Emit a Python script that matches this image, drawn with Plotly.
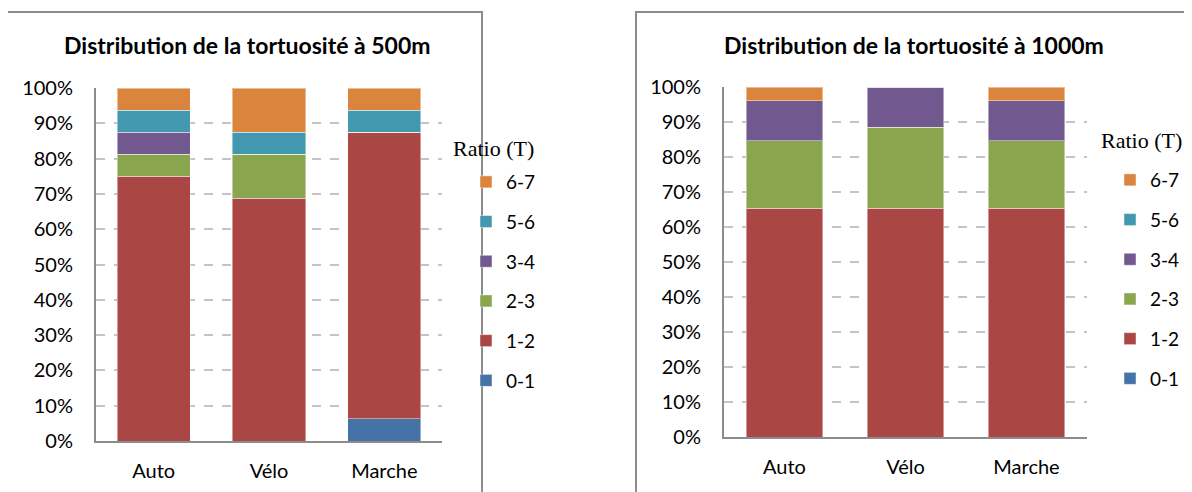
import plotly.graph_objects as go

W, H = 1192, 492
PAGE_OFFSET = 8  # default body margin of the html page

categories = ['Auto', 'Vélo', 'Marche']
classes = ['0-1', '1-2', '2-3', '3-4', '5-6', '6-7']
colors = ['#4572A7', '#AA4643', '#89A54E', '#71588F', '#4198AF', '#DB843D']

# share (%) of each tortuosity class, per mode
t500_01 = [0, 0, 6.25]
t500_12 = [75, 68.75, 81.25]
t500_23 = [6.25, 12.5, 0]
t500_34 = [6.25, 0, 0]
t500_56 = [6.25, 6.25, 6.25]
t500_67 = [6.25, 12.5, 6.25]

t1000_01 = [0, 0, 0]
t1000_12 = [65.4, 65.4, 65.4]
t1000_23 = [19.2, 23.1, 19.2]
t1000_34 = [11.5, 11.5, 11.5]
t1000_56 = [0, 0, 0]
t1000_67 = [3.9, 0, 3.9]

series_500 = [t500_01, t500_12, t500_23, t500_34, t500_56, t500_67]
series_1000 = [t1000_01, t1000_12, t1000_23, t1000_34, t1000_56, t1000_67]

SANS = 'Lato, Calibri, sans-serif'
SERIF = 'Liberation Serif, Times New Roman, serif'


def px_x(x):
    return (x - PAGE_OFFSET) / W


def px_y(y):
    return 1 - (y - PAGE_OFFSET) / H


fig = go.Figure()
for i, (name, color) in enumerate(zip(classes, colors)):
    for series, ax, leg in [(series_500, 'x', 'legend'), (series_1000, 'x2', 'legend2')]:
        fig.add_trace(go.Bar(
            x=categories, y=series[i], name=name,
            xaxis=ax, yaxis=ax.replace('x', 'y'),
            legend=leg, legendgroup=f'{leg}{name}', legendrank=100 - i,
            marker=dict(color=color, line=dict(color='rgba(255,255,255,0.45)', width=1)),
            hoverinfo='x+y+name'))

axis_common = dict(showline=True, linecolor='#8c8c8c', linewidth=2, automargin=False,
                   tickfont=dict(family=SANS, size=20, color='#000'))
yaxis_common = dict(axis_common, range=[0, 100], dtick=10, ticksuffix='%',
                    showgrid=True, gridcolor='#c4c4c4', griddash='dash', gridwidth=1.5,
                    ticks='', ticklabelstandoff=17, fixedrange=True, zeroline=False)
xaxis_common = dict(axis_common, ticks='', ticklabelstandoff=11, fixedrange=True)

legend_common = dict(font=dict(family=SANS, size=19, color='#000'),
                     traceorder='grouped', tracegroupgap=12,
                     bgcolor='rgba(0,0,0,0)', itemclick=False, itemdoubleclick=False,
                     xanchor='left', yanchor='top')

title_font = dict(family=SANS, size=23, color='#000')
serif_font = dict(family=SERIF, size=22, color='#000')

fig.update_layout(
    width=W, height=H,
    margin=dict(l=0, r=0, t=0, b=0, autoexpand=False),
    paper_bgcolor='white', plot_bgcolor='white',
    barmode='stack', bargap=0.365,
    xaxis=dict(xaxis_common, domain=[px_x(96), px_x(442)], anchor='y'),
    yaxis=dict(yaxis_common, domain=[px_y(441), px_y(88)], anchor='x'),
    xaxis2=dict(xaxis_common, domain=[px_x(724), px_x(1087)], anchor='y2'),
    yaxis2=dict(yaxis_common, domain=[px_y(437), px_y(87)], anchor='x2'),
    legend=dict(legend_common, x=px_x(466), y=px_y(163)),
    legend2=dict(legend_common, x=px_x(1110), y=px_y(161)),
    shapes=[
        dict(type='rect', xref='paper', yref='paper',
             x0=px_x(7), x1=px_x(482), y0=px_y(505), y1=px_y(12),
             line=dict(color='#8c8c8c', width=2)),
        dict(type='rect', xref='paper', yref='paper',
             x0=px_x(636), x1=px_x(1205), y0=px_y(505), y1=px_y(12),
             line=dict(color='#8c8c8c', width=2)),
    ],
    annotations=[
        dict(text='<b>Distribution de la tortuosité à 500m</b>', x=px_x(247), y=px_y(45),
             font=title_font),
        dict(text='<b>Distribution de la tortuosité à 1000m</b>', x=px_x(914), y=px_y(45),
             font=title_font),
        dict(text='Ratio (T)', x=px_x(493), y=px_y(148), font=serif_font),
        dict(text='Ratio (T)', x=px_x(1141), y=px_y(141), font=serif_font),
    ],
)
fig.update_annotations(xref='paper', yref='paper', showarrow=False,
                       xanchor='center', yanchor='middle')

fig.write_html('out.html')
